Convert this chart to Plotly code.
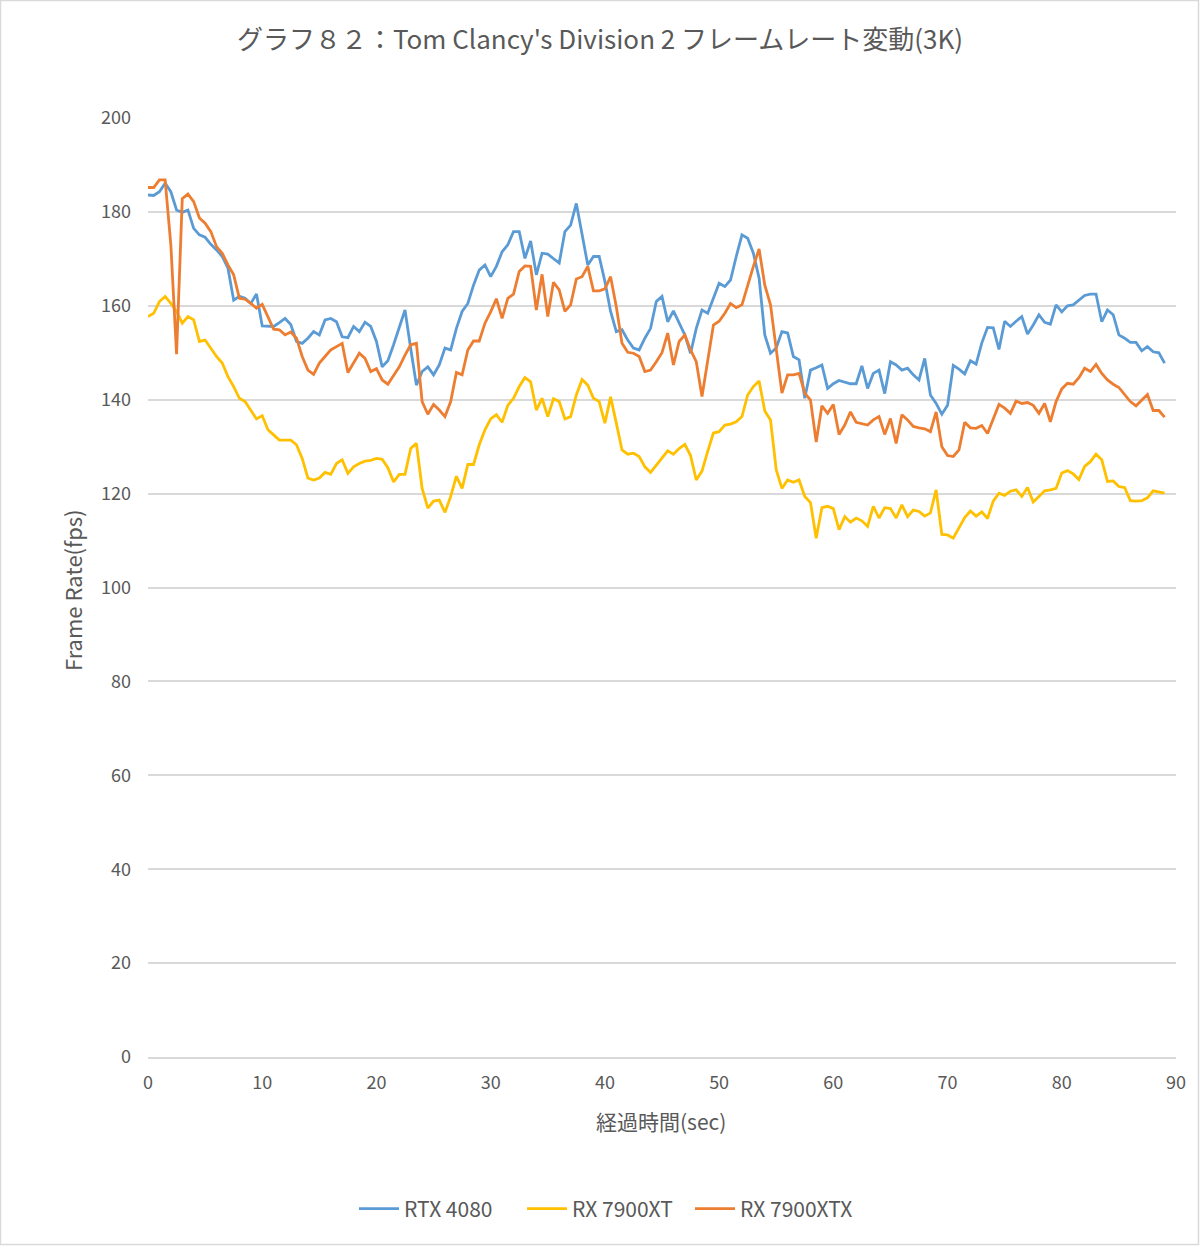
import plotly.graph_objects as go

# time axis: 0 .. 89 s, sampled every 0.5 s
time_sec = [i * 0.5 for i in range(179)]

rtx_4080 = [
    183.6, 183.5, 184.3, 186.1, 184.3, 180.4, 179.9, 180.4, 176.5, 175.1,
    174.6, 173.1, 171.9, 170.5, 168.0, 161.2, 162.0, 161.6, 160.5, 162.5,
    155.7, 155.7, 155.6, 156.4, 157.3, 156.0, 152.4, 152.0, 153.1, 154.5,
    153.8, 157.0, 157.3, 156.6, 153.4, 153.2, 155.6, 154.5, 156.5, 155.6,
    152.4, 147.0, 148.3, 151.7, 155.6, 159.1, 150.9, 143.1, 146.0, 147.0,
    145.3, 147.4, 151.0, 150.6, 155.2, 158.8, 160.5, 164.4, 167.6, 168.7,
    166.2, 168.4, 171.5, 173.0, 175.8, 175.8, 170.1, 173.8, 166.6, 171.2,
    171.0, 170.1, 169.1, 175.8, 177.2, 181.8, 175.1, 168.7, 170.5, 170.5,
    165.2, 158.8, 154.5, 154.9, 152.7, 151.0, 150.6, 153.1, 155.2, 160.9,
    162.0, 156.6, 158.9, 156.3, 153.8, 149.9, 155.2, 159.1, 158.4, 161.6,
    164.8, 164.1, 165.5, 170.5, 175.1, 174.4, 171.2, 165.9, 153.8, 149.9,
    151.0, 154.5, 154.2, 149.2, 148.5, 140.3, 146.3, 146.8, 147.4, 142.4,
    143.4, 144.1, 143.8, 143.4, 143.4, 147.2, 142.4, 145.6, 146.3, 141.3,
    148.1, 147.4, 146.3, 146.7, 145.3, 144.2, 148.8, 141.0, 139.2, 136.9,
    138.8, 147.3, 146.5, 145.5, 148.3, 147.6, 152.1, 155.4, 155.3, 150.7,
    156.7, 155.6, 156.7, 157.7, 154.0, 155.9, 158.1, 156.5, 156.1, 160.2,
    158.7, 160.0, 160.2, 161.3, 162.2, 162.5, 162.5, 156.6, 159.1, 158.1,
    153.8, 153.1, 152.2, 152.2, 150.4, 151.3, 150.2, 150.0, 147.8,
]

rx_7900xt = [
    157.7, 158.4, 160.9, 162.0, 160.5, 158.8, 156.3, 157.7, 157.0, 152.4,
    152.7, 151.0, 149.2, 147.8, 144.9, 142.8, 140.3, 139.6, 137.8, 135.9,
    136.6, 133.6, 132.5, 131.4, 131.4, 131.4, 130.4, 127.5, 123.3, 122.9,
    123.3, 124.5, 124.1, 126.4, 127.2, 124.3, 125.7, 126.4, 126.9, 127.1,
    127.5, 127.3, 125.5, 122.5, 124.1, 124.1, 129.6, 130.7, 121.1, 116.9,
    118.4, 118.6, 116.0, 119.4, 123.7, 121.1, 126.2, 126.2, 130.4, 133.6,
    135.9, 136.8, 135.2, 138.8, 140.3, 142.8, 144.7, 143.8, 137.8, 140.3,
    136.4, 140.2, 139.6, 135.9, 136.4, 141.0, 144.3, 143.1, 140.3, 139.6,
    135.0, 140.6, 135.0, 129.3, 128.4, 128.6, 127.9, 125.7, 124.5, 126.1,
    127.7, 129.1, 128.4, 129.6, 130.5, 128.1, 122.9, 124.8, 129.0, 132.9,
    133.2, 134.6, 134.8, 135.3, 136.4, 141.0, 142.8, 144.0, 137.6, 135.7,
    125.1, 121.1, 122.9, 122.4, 122.9, 119.4, 118.1, 110.5, 117.0, 117.3,
    116.8, 112.3, 115.1, 113.9, 114.8, 114.2, 113.0, 117.3, 114.8, 117.0,
    116.8, 114.8, 117.6, 115.1, 116.5, 116.2, 115.2, 115.9, 120.8, 111.3,
    111.2, 110.5, 112.7, 114.9, 116.3, 115.2, 116.1, 114.7, 118.4, 120.1,
    119.6, 120.5, 120.8, 119.4, 121.3, 118.2, 119.4, 120.6, 120.8, 121.1,
    124.4, 124.9, 124.2, 123.0, 125.8, 126.8, 128.4, 127.2, 122.6, 122.7,
    121.5, 121.3, 118.5, 118.4, 118.5, 119.1, 120.6, 120.4, 120.1,
]

rx_7900xtx = [
    185.2, 185.2, 186.8, 186.8, 173.0, 149.7, 182.8, 183.8, 182.2, 178.7,
    177.6, 175.8, 172.6, 171.2, 168.7, 166.6, 161.6, 161.4, 160.5, 159.5,
    160.3, 157.7, 155.0, 154.9, 153.8, 154.4, 153.1, 149.2, 146.3, 145.4,
    147.8, 149.2, 150.6, 151.3, 152.0, 145.8, 148.0, 149.9, 148.8, 146.0,
    146.6, 144.2, 143.3, 145.3, 147.0, 149.5, 151.7, 152.0, 139.6, 136.9,
    139.0, 137.8, 136.4, 139.6, 145.8, 145.3, 150.6, 152.5, 152.5, 156.3,
    158.7, 161.5, 157.3, 161.6, 162.5, 167.3, 168.5, 168.4, 159.1, 166.7,
    157.7, 165.0, 163.4, 158.8, 160.2, 165.7, 166.2, 168.4, 163.2, 163.2,
    163.6, 166.2, 159.8, 152.0, 150.1, 149.9, 149.2, 146.0, 146.3, 148.1,
    150.0, 154.2, 147.4, 152.4, 153.8, 150.6, 148.1, 140.7, 148.8, 155.9,
    156.7, 158.4, 160.5, 159.6, 160.2, 164.4, 168.4, 172.1, 164.4, 160.2,
    150.2, 141.4, 145.3, 145.3, 145.6, 141.4, 139.9, 131.0, 138.7, 137.1,
    139.0, 132.6, 134.6, 137.4, 135.2, 134.9, 134.6, 135.7, 136.4, 132.6,
    136.0, 130.7, 136.8, 135.7, 134.3, 134.0, 133.8, 133.2, 137.4, 130.0,
    128.1, 127.9, 129.3, 135.2, 134.0, 133.9, 134.5, 132.8, 135.9, 139.0,
    138.2, 137.1, 139.7, 139.2, 139.4, 138.8, 137.1, 139.2, 135.3, 139.6,
    142.3, 143.5, 143.3, 144.7, 146.7, 146.0, 147.5, 145.6, 144.2, 143.3,
    142.6, 141.1, 139.6, 138.7, 139.9, 141.1, 137.7, 137.7, 136.3,
]

series_names = ["RTX 4080", "RX 7900XT", "RX 7900XTX"]
series_values = [rtx_4080, rx_7900xt, rx_7900xtx]
series_colors = ["#5B9BD5", "#FFC000", "#ED7D31"]

y_ticks = [0, 20, 40, 60, 80, 100, 120, 140, 160, 180, 200]
x_ticks = [0, 10, 20, 30, 40, 50, 60, 70, 80, 90]

title_text = "グラフ８２：Tom Clancy's Division 2 フレームレート変動(3K)"
x_title = "経過時間(sec)"
y_title = "Frame Rate(fps)"

FONT = "Noto Sans CJK JP"
TXT = "#595959"

fig = go.Figure()
for name, vals, col in zip(series_names, series_values, series_colors):
    fig.add_trace(go.Scatter(
        x=time_sec, y=vals, mode="lines", name=name,
        line=dict(color=col, width=2.8),
    ))

# plot-area geometry in pixels
L, R, T, B = 148, 1176, 118, 1057
W, H = 1200, 1246
pw, ph = R - L, B - T

def px_x(p):
    return (p - L) / pw

def px_y(p):
    return (B - p) / ph

fig.update_layout(
    width=W, height=H,
    margin=dict(l=L, r=W - R, t=T, b=H - B),
    paper_bgcolor="white", plot_bgcolor="white",
    font=dict(family=FONT, color=TXT, size=17),
    title=dict(text=title_text, x=0.5, xanchor="center",
               y=1 - 40 / H, yanchor="middle", yref="container",
               font=dict(size=26, color=TXT, family=FONT)),
    showlegend=True,
    legend=dict(orientation="h", x=px_x(606), xanchor="center",
                y=px_y(1209), yanchor="middle",
                font=dict(size=21, color=TXT), itemwidth=40,
                entrywidth=113, entrywidthmode="pixels",
                traceorder="normal"),
    xaxis=dict(range=[0, 90], tickvals=x_ticks, showgrid=False,
               showline=True, linecolor="#d9d9d9", linewidth=1.5,
               zeroline=False, ticks="", ticklabelstandoff=9,
               tickfont=dict(size=18, color=TXT), fixedrange=True),
    yaxis=dict(range=[0, 200], tickvals=y_ticks, showgrid=True,
               gridcolor="#d9d9d9", gridwidth=1.5, zeroline=False,
               showline=False, ticks="", ticklabelstandoff=16,
               tickfont=dict(size=18, color=TXT), fixedrange=True),
    annotations=[
        dict(text=x_title, xref="paper", yref="paper",
             x=px_x(661), y=px_y(1121), xanchor="center", yanchor="middle",
             showarrow=False, font=dict(size=21, color=TXT)),
        dict(text=y_title, xref="paper", yref="paper",
             x=px_x(72), y=px_y(590), xanchor="center", yanchor="middle",
             textangle=-90, showarrow=False, font=dict(size=22, color=TXT)),
    ],
    shapes=[
        dict(type="rect", xref="paper", yref="paper",
             x0=px_x(0.5), x1=px_x(W - 1.5), y0=px_y(H - 1.5), y1=px_y(0.5),
             line=dict(color="#d9d9d9", width=1.5), layer="below"),
    ],
)

fig.write_html("out.html",
               config={"displayModeBar": False},
               post_script="document.body.style.margin='0';document.body.style.padding='0';")
